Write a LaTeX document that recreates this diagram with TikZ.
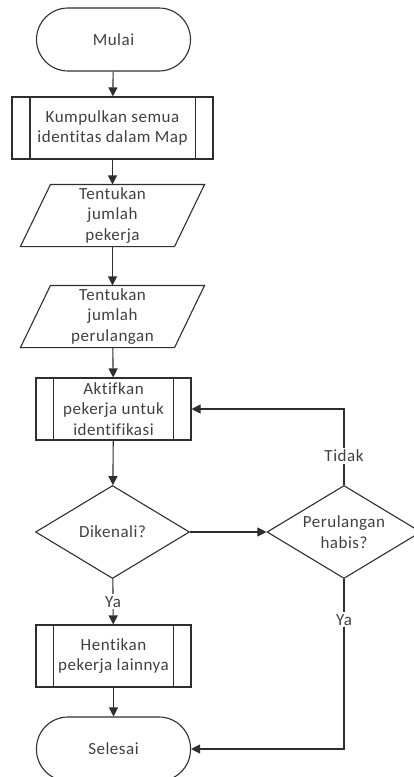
\documentclass[tikz,border=0pt]{standalone}
\usepackage{fontspec}
\setmainfont{Carlito}[Ligatures={NoCommon,NoRequired,NoContextual}, LetterSpace=3]
\usetikzlibrary{arrows.meta,shapes.geometric,calc}
\definecolor{ln}{HTML}{2E2E2E}
\definecolor{tx}{HTML}{404040}
\begin{document}
\begin{tikzpicture}[x=1pt,y=-1pt,
  base/.style={draw=ln, line width=1.1pt, text=tx, font=\fontsize{17}{20.5}\selectfont, align=center, inner sep=0pt},
  term/.style={base, rectangle, rounded corners=31.5pt, minimum width=154pt, minimum height=63pt},
  proc/.style={base, rectangle, minimum height=62pt},
  paranode/.style={base, draw=none, rectangle, minimum width=123pt, minimum height=61pt},
  dec/.style={base, diamond, aspect=1.65, minimum width=154pt, minimum height=93pt},
  arr/.style={draw=ln, line width=1.1pt, -{Triangle[length=9pt,width=9pt]}},
  lbl/.style={fill=white, text=tx, font=\fontsize{17}{20.5}\selectfont, inner sep=2pt}
]
\useasboundingbox (0,0) rectangle (414,777);

\node[term] (mulai) at (113.5,39.5) {Mulai};
\node[proc, minimum width=201pt] (kump) at (112.5,128) {Kumpulkan semua\\identitas dalam Map};
\node[paranode] (p1) at (112.5,215.5) {Tentukan\\jumlah\\pekerja};
\node[paranode] (p2) at (112.5,316.5) {Tentukan\\jumlah\\perulangan};
\node[proc, minimum width=155pt] (akt) at (113.5,409) {Aktifkan\\pekerja untuk\\identifikasi};
\node[dec] (dik) at (112.5,532) {Dikenali?};
\node[dec] (per) at (344,532) {Perulangan\\habis?};
\node[proc, minimum width=155pt] (hent) at (113.5,656) {Hentikan\\pekerja lainnya};
\node[term, minimum height=64pt] (sel) at (113.5,749) {Selesai};

% side bars of predefined processes
\foreach \n/\d in {kump/18.5, akt/18, hent/18}{
  \draw[draw=ln, line width=1.1pt] ([xshift=\d pt]\n.north west) -- ([xshift=\d pt]\n.south west);
  \draw[draw=ln, line width=1.1pt] ([xshift=-\d pt]\n.north east) -- ([xshift=-\d pt]\n.south east);
}
% parallelograms
\foreach \n in {p1,p2}{
  \draw[draw=ln, line width=1.1pt, line join=miter]
    ([xshift=-30pt]\n.south west) -- (\n.north west) -- ([xshift=30pt]\n.north east) -- (\n.south east) -- cycle;
}

\draw[arr] (mulai) -- (kump);
\draw[arr] (kump) -- (p1);
\draw[arr] (p1) -- (p2);
\draw[arr] (p2) -- (akt);
\draw[arr] (akt) -- (dik);
\draw[arr] (dik) -- (per);
\draw[arr] (dik) -- node[lbl, pos=0.5]{Ya} (hent);
\draw[arr] (hent) -- (sel);
\draw[arr] (per.north) |- node[lbl, pos=0.19]{Tidak} (akt.east);
\draw[arr] (per.south) |- node[lbl, pos=0.12]{Ya} (sel.east);
\end{tikzpicture}
\end{document}
